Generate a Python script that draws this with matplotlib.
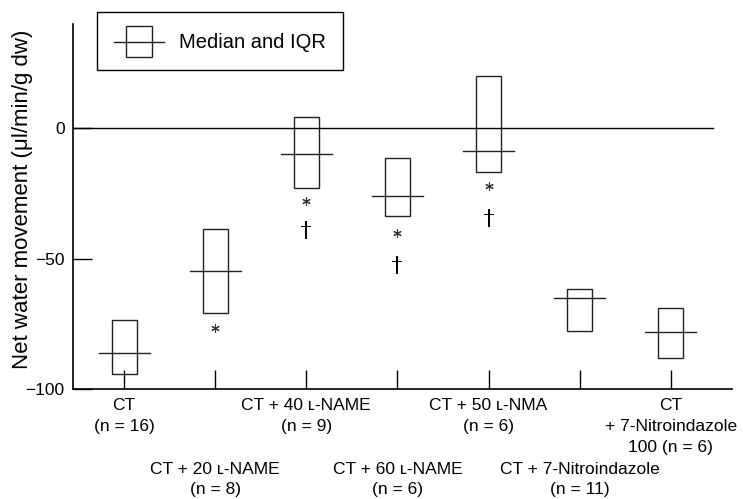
import matplotlib.pyplot as plt
from matplotlib.patches import Rectangle
from matplotlib.lines import Line2D

plt.rcParams['font.family'] = ['Liberation Sans', 'DejaVu Sans']

# --- Datos ---
groups = ["CT\n(n = 16)", "CT + 20 \u029f-NAME\n(n = 8)", "CT + 40 \u029f-NAME\n(n = 9)",
          "CT + 60 \u029f-NAME\n(n = 6)", "CT + 50 \u029f-NMA\n(n = 6)",
          "CT + 7-Nitroindazole\n(n = 11)", "CT\n+ 7-Nitroindazole\n100 (n = 6)"]
q1 = [-94.3, -70.9, -23.0, -33.7, -16.7, -77.8, -88.1]
q3 = [-73.6, -38.7, 4.2, -11.5, 20.0, -61.7, -69.0]
median = [-86.2, -54.8, -10.0, -26.0, -8.7, -65.1, -78.2]

# significancia: * y † (posición y de cada símbolo)
star_x = [2, 3, 4, 5]
star_y = [-76.6, -28.0, -40.0, -22.0]
dagger_x = [3, 4, 5]
dagger_y = [-39.0, -52.5, -34.5]

pos = list(range(1, len(groups) + 1))
box_w = 0.275
med_w = 0.56

fig = plt.figure(figsize=(7.43, 4.99), dpi=100)
ax = fig.add_axes([0.0983, 0.2204, 0.8867, 0.7315])

for x, lo, hi, m in zip(pos, q1, q3, median):
    ax.add_patch(Rectangle((x - box_w / 2, lo), box_w, hi - lo,
                           fill=False, edgecolor="#222222", linewidth=1.0))
    ax.plot([x - med_w / 2, x + med_w / 2], [m, m], color="#222222", linewidth=1.0)

ax.axhline(0, xmin=0, xmax=0.971, color="black", linewidth=1.0)

ax.scatter(star_x, star_y, marker=(6, 2, 0), s=30, color="#333333", linewidths=0.8)
ax.scatter(dagger_x, dagger_y, marker="$\u2020$", s=150, color="black", linewidths=0)

ax.set_xlim(0.44, 7.67)
ax.set_ylim(-100, 40)
ax.set_yticks([-100, -50, 0])
ax.set_yticklabels(["\u2212100", "\u221250", "0"], fontsize=12.5)
ax.set_xticks(pos)
ax.set_xticklabels([])
ax.tick_params(axis="both", direction="in", length=14, width=1.0, pad=6)
for s in ["top", "right"]:
    ax.spines[s].set_visible(False)
for s in ["left", "bottom"]:
    ax.spines[s].set_linewidth(1.2)

ax.set_ylabel("Net water movement (\u03bcl/min/g dw)", fontsize=16)
ax.yaxis.set_label_coords(-0.061, 0.52)

# Etiquetas de categoría en dos filas alternas
for i, (x, lab) in enumerate(zip(pos, groups)):
    if i % 2 == 0:
        y, ls = -0.024, 1.5
    else:
        y, ls = -0.201, 1.4
    ax.text(x, y, lab, transform=ax.get_xaxis_transform(), ha="center", va="top",
            fontsize=12.5, linespacing=ls)

# Leyenda
fig.patches.append(Rectangle((0.1306, 0.8597), 0.3310, 0.1163, transform=fig.transFigure,
                             fill=False, edgecolor="black", linewidth=1.0))
fig.patches.append(Rectangle((0.1696, 0.8858), 0.0350, 0.0621, transform=fig.transFigure,
                             fill=False, edgecolor="#222222", linewidth=1.0))
fig.lines.append(Line2D([0.1534, 0.2207], [0.9158, 0.9158], transform=fig.transFigure,
                        color="#222222", linewidth=1.0))
fig.text(0.2409, 0.9158, "Median and IQR", fontsize=14.5, va="center", ha="left")

fig.savefig("out.png", dpi=100)
